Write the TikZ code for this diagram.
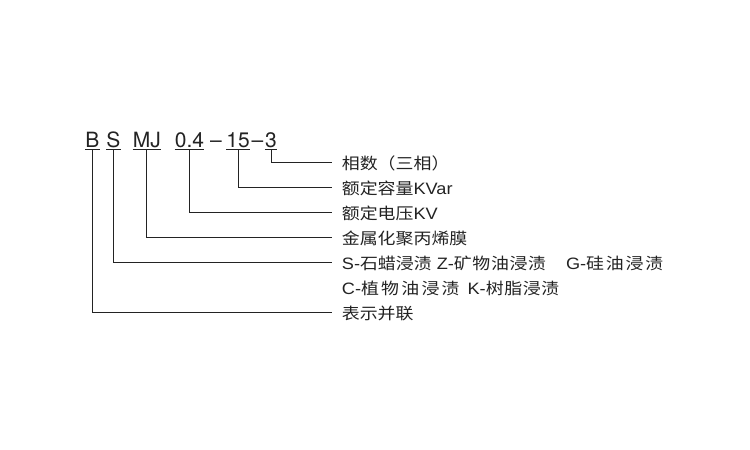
\documentclass[tikz,border=0pt]{standalone}
\usepackage{fontspec}
\setmainfont{Noto Sans CJK SC}
\newfontfamily\codefont{TeX Gyre Heros}
\newfontfamily\cjkfont[FakeStretch=1.12]{Noto Sans CJK SC}
\newfontfamily\latinfont[FakeStretch=1.1]{Liberation Sans}
\newcommand\latpart[1]{{\latinfont\fontsize{16.5}{16}\selectfont #1}}
\newcommand\cjkspaced[2]{{\addfontfeatures{LetterSpace=#1}#2}}
\definecolor{ink}{RGB}{35,35,35}
\begin{document}
\begin{tikzpicture}[x=1pt,y=-1pt,
  code/.style={inner sep=0pt, anchor=base, text=ink,
    font=\codefont\fontsize{21}{21}\selectfont},
  lab/.style={inner xsep=10pt, inner ysep=0pt, anchor=west, text=ink,
    text height=15pt, text depth=0pt,
    font=\cjkfont\fontsize{16}{16}\selectfont},
  conn/.style={draw=ink, line width=1pt}]
\useasboundingbox[fill=white] (0,0) rectangle (750,450);

% code letters
\node[code] (cB)  at (92.5,147)  {B};
\node[code] (cS)  at (113.5,147) {S};
\node[code] (cMJ) at (146.8,147) {MJ};
\node[code] (cU)  at (189.5,147) {0.4};
\node[code] (d1)  at (216,147)   {–};
\node[code] (cQ)  at (238,147)   {15};
\node[code] (d2)  at (257.5,147) {–};
\node[code] (cP)  at (271,147)   {3};

% labels
\node[lab] (l1) at (331.7,162) {相数（三相）};
\node[lab] (l2) at (331.7,187) {额定容量\latpart{KVar}};
\node[lab] (l3) at (331.7,212) {额定电压\latpart{KV}};
\node[lab] (l4) at (331.7,237) {金属化聚丙烯膜};
\node[lab] (l5) at (331.7,262) {\latpart{S-}石蜡浸渍\latpart{ Z-}\cjkspaced{4}{矿物油浸渍}\hspace{20pt}\latpart{G-}\cjkspaced{11}{硅油浸渍}};
\node[lab] (l6) at (331.7,287) {\latpart{C-}\cjkspaced{14}{植物油浸渍}\hspace{8pt}\latpart{K-}\cjkspaced{4}{树脂浸渍}};
\node[lab] (l7) at (331.7,312) {表示并联};

% underlines
\foreach \c in {cB,cS,cMJ,cU,cQ,cP}
  \draw[conn] ([yshift=-2pt]\c.base west) -- ([yshift=-2pt]\c.base east);

% connectors
\draw[conn] ([yshift=-2pt]cP.base)  |- (l1.west);
\draw[conn] ([yshift=-2pt]cQ.base)  |- (l2.west);
\draw[conn] ([yshift=-2pt]cU.base)  |- (l3.west);
\draw[conn] ([yshift=-2pt]cMJ.base) |- (l4.west);
\draw[conn] ([yshift=-2pt]cS.base)  |- (l5.west);
\draw[conn] ([yshift=-2pt]cB.base)  |- (l7.west);
\end{tikzpicture}
\end{document}
